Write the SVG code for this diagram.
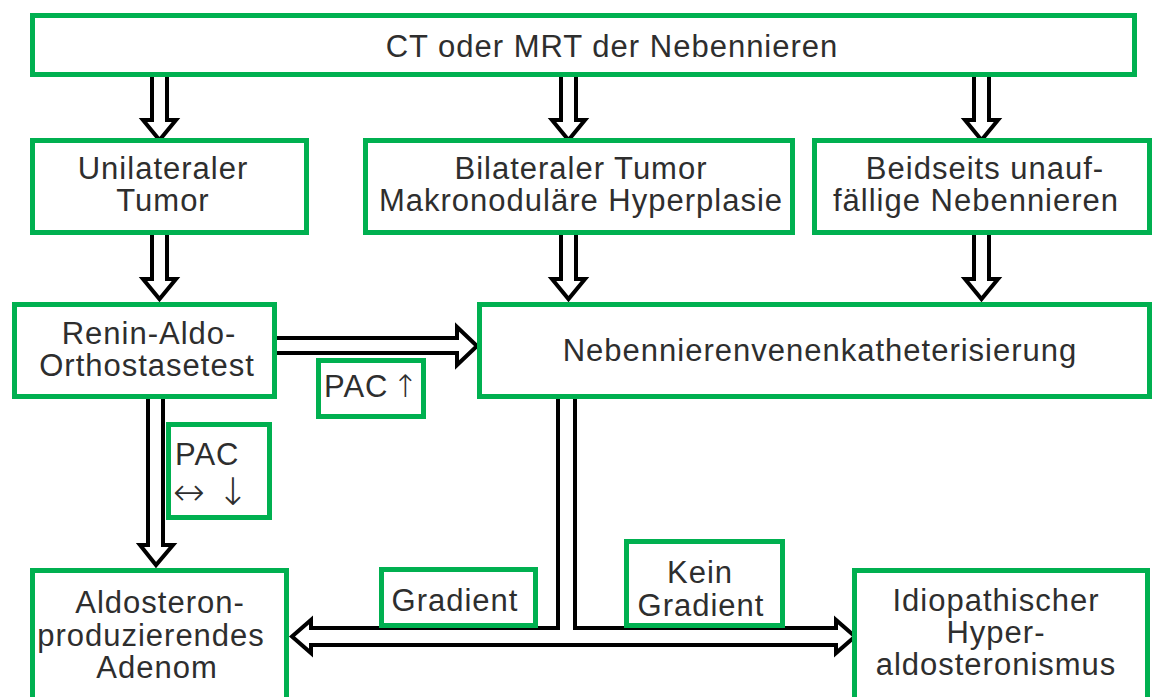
<svg xmlns="http://www.w3.org/2000/svg" width="1153" height="697" viewBox="0 0 1153 697">
  <style>
    .box { fill: #ffffff; stroke: #00b050; stroke-width: 5; }
    .arr { fill: #ffffff; stroke: #000000; stroke-width: 4; stroke-linejoin: miter; }
    text { font-family: "Liberation Sans", Arial, sans-serif; font-size: 31px; letter-spacing: 1px; fill: #2e2e2e; text-anchor: middle; }
    .l { text-anchor: start; }
    .sym { font-family: "DejaVu Sans", sans-serif; font-weight: 200; letter-spacing: 0; }
    .big { font-size: 38px; }
  </style>
  <rect width="1153" height="697" fill="#ffffff"/>

  <!-- connectors -->
  <g id="connectors">
    <!-- top box to row 2 -->
    <path class="arr" d="M152,75 V120 H143 L159.5,140 L176,120 H167 V75"/>
    <path class="arr" d="M561,75 V120 H552 L568.5,140 L585,120 H576 V75"/>
    <path class="arr" d="M974,75 V120 H965 L981.5,140 L998,120 H989 V75"/>
    <!-- row 2 to row 3 -->
    <path class="arr" d="M152,234 V279 H143 L159.5,299 L176,279 H167 V234"/>
    <path class="arr" d="M561,234 V279 H552 L568.5,299 L585,279 H576 V234"/>
    <path class="arr" d="M974,234 V279 H965 L981.5,299 L998,279 H989 V234"/>
    <!-- Renin to Aldosteron -->
    <path class="arr" d="M148,398 V545 H140 L156,565 L173,545 H163 V398"/>
    <!-- Renin to Nebennierenvenenkatheterisierung -->
    <path class="arr" d="M275,338 H457 V327 L477,346 L457,365 V353 H275"/>
    <!-- T-junction double arrow -->
    <path class="arr" d="M558,398 V628 H311 V620 L292,636.5 L311,653 V645 H836 V653 L855,636.5 L836,620 V628 H575 V398"/>
  </g>

  <g id="n-ct">
    <rect class="box" x="32.5" y="15.5" width="1102" height="59"/>
    <text x="612" y="57">CT oder MRT der Nebennieren</text>
  </g>
  <g id="n-unilateral">
    <rect class="box" x="32.5" y="140.5" width="274" height="92"/>
    <text x="163" y="179">Unilateraler</text>
    <text x="163" y="211">Tumor</text>
  </g>
  <g id="n-bilateral">
    <rect class="box" x="365.5" y="140.5" width="427" height="92"/>
    <text x="581" y="179">Bilateraler Tumor</text>
    <text x="581" y="211">Makronoduläre Hyperplasie</text>
  </g>
  <g id="n-beidseits">
    <rect class="box" x="814.5" y="140.5" width="335" height="92"/>
    <text x="985" y="179">Beidseits unauf-</text>
    <text x="976" y="211">fällige Nebennieren</text>
  </g>
  <g id="n-renin">
    <rect class="box" x="14.5" y="304.5" width="260" height="92"/>
    <text x="149" y="344">Renin-Aldo-</text>
    <text x="147" y="376">Orthostasetest</text>
  </g>
  <g id="n-katheter">
    <rect class="box" x="479.5" y="304.5" width="670" height="92"/>
    <text x="820" y="361">Nebennierenvenenkatheterisierung</text>
  </g>
  <g id="n-pac-up">
    <rect class="box" x="318.5" y="360.5" width="105" height="56"/>
    <text class="l" x="324" y="397">PAC<tspan class="sym" dx="4">↑</tspan></text>
  </g>
  <g id="n-pac-down">
    <rect class="box" x="168.5" y="424.5" width="101" height="93"/>
    <text class="l" x="175" y="465">PAC</text>
    <text class="l sym big" x="173" y="505">↔ ↓</text>
  </g>
  <g id="n-gradient">
    <rect class="box" x="381.5" y="569.5" width="154" height="56"/>
    <text x="455" y="611">Gradient</text>
  </g>
  <g id="n-kein-gradient">
    <rect class="box" x="626.5" y="541.5" width="156" height="84"/>
    <text x="700" y="583">Kein</text>
    <text x="701" y="616">Gradient</text>
  </g>
  <g id="n-adenom">
    <rect class="box" x="32.5" y="570.5" width="254" height="135"/>
    <text x="160" y="613">Aldosteron-</text>
    <text x="151" y="646">produzierendes</text>
    <text x="157" y="678">Adenom</text>
  </g>
  <g id="n-idiopathisch">
    <rect class="box" x="854.5" y="570.5" width="293" height="135"/>
    <text x="996" y="611">Idiopathischer</text>
    <text x="996" y="643">Hyper-</text>
    <text x="996" y="675">aldosteronismus</text>
  </g>
</svg>
